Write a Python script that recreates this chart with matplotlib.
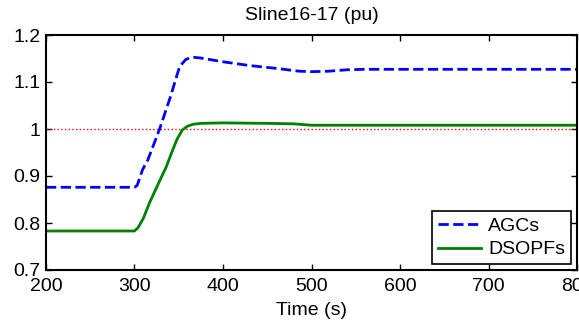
import matplotlib
matplotlib.use("Agg")
import matplotlib.pyplot as plt

agc_t = [200, 300, 303, 309, 315, 328, 340, 351, 358, 365, 375, 400, 430, 460, 486, 500, 520, 540, 560, 600, 800]
agc_v = [0.876, 0.876, 0.880, 0.913, 0.934, 0.998, 1.065, 1.133, 1.148, 1.153, 1.151, 1.143, 1.135, 1.129, 1.123, 1.122, 1.123, 1.126, 1.127, 1.127, 1.127]

dsopf_t = [200, 300, 304, 310, 317, 326, 336, 342, 348, 354, 360, 366, 375, 400, 450, 480, 500, 550, 800]
dsopf_v = [0.783, 0.783, 0.79, 0.81, 0.843, 0.88, 0.92, 0.95, 0.978, 0.998, 1.006, 1.010, 1.012, 1.013, 1.012, 1.011, 1.008, 1.008, 1.008]

ref_t = [200, 800]
ref_v = [1.0, 1.0]

xticks = [200, 300, 400, 500, 600, 700, 800]
yticks = [0.7, 0.8, 0.9, 1.0, 1.1, 1.2]
yticklabels = ["0.7", "0.8", "0.9", "1", "1.1", "1.2"]

plt.rcParams['font.family'] = ['Liberation Sans', 'DejaVu Sans']
fig = plt.figure(figsize=(5.79, 3.22), dpi=100)
ax = fig.add_axes([46/579, 1-270/322, (577-46)/579, (270-35)/322])

ax.plot(ref_t, ref_v, color='red', linestyle=':', linewidth=1.0)
ax.plot(agc_t, agc_v, color='blue', linestyle='--', linewidth=2.0, label='AGCs')
ax.plot(dsopf_t, dsopf_v, color='green', linestyle='-', linewidth=2.0, label='DSOPFs')

ax.set_xlim(200, 800)
ax.set_ylim(0.7, 1.2)
ax.set_xticks(xticks)
ax.set_yticks(yticks)
ax.set_yticklabels(yticklabels)
ax.tick_params(direction='in', top=True, right=True, labelsize=14, length=4, width=1)
ax.tick_params(axis='x', pad=6)
ax.tick_params(axis='y', pad=4)
for s in ax.spines.values():
    s.set_linewidth(1.5)

ax.set_title('Sline16-17 (pu)', fontsize=14, pad=11)
ax.set_xlabel('Time (s)', fontsize=14, labelpad=5)

leg = ax.legend(loc='lower right', fontsize=14, fancybox=False, framealpha=1,
                edgecolor='black', handlelength=2.2, borderpad=0.3, labelspacing=0.3,
                handletextpad=0.4, borderaxespad=0.3)
leg.get_frame().set_linewidth(1.2)

fig.savefig('out.png', dpi=100)
